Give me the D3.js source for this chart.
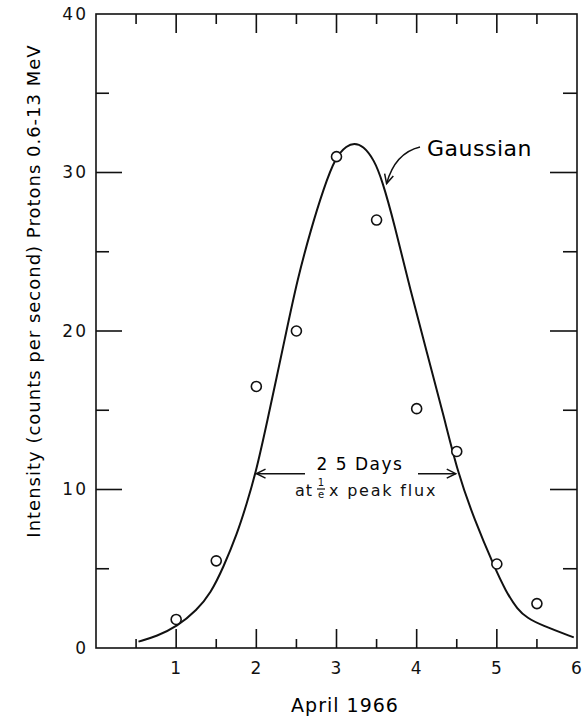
<!DOCTYPE html>
<html>
<head>
<meta charset="utf-8">
<script src="https://cdn.jsdelivr.net/npm/d3@7"></script>
<style>
  html, body { margin: 0; padding: 0; background: #fff; }
  svg { display: block; font-family: 'DejaVu Sans', sans-serif; }
</style>
</head>
<body>
<svg id="chart" width="584" height="719"></svg>
<script>
(() => {
  // observed counts, April 1966
  const days = [1, 1.5, 2, 2.5, 3, 3.5, 4, 4.5, 5, 5.5]
  const counts = [1.8, 5.5, 16.5, 20, 31, 27, 15.1, 12.4, 5.3, 2.8]

  // hand-drawn gaussian
  const curveDays = [0.53, 0.76, 1.01, 1.26, 1.43, 1.59, 1.76, 1.88, 1.99, 2.12, 2.38, 2.51, 2.68, 2.84, 2.99, 3.13, 3.22, 3.33, 3.47, 3.57, 3.72, 3.92, 4.13, 4.34, 4.51, 4.72, 4.97, 5.11, 5.26, 5.38, 5.55, 5.96]
  const curveCounts = [0.4, 0.75, 1.35, 2.4, 3.45, 5.1, 7.2, 9.1, 11.0, 13.9, 20.1, 23.2, 26.4, 29.0, 31.0, 31.7, 31.85, 31.7, 30.8, 29.5, 26.8, 22.6, 18.6, 14.6, 11.1, 8.1, 5.1, 3.6, 2.4, 1.9, 1.45, 0.67]

  const xLabels = [1, 2, 3, 4, 5, 6]
  const xMajorTicks = [1, 2, 3, 4, 5]
  const xMinorTicks = [0.5, 1.5, 2.5, 3.5, 4.5, 5.5]
  const yLabels = [0, 10, 20, 30, 40]
  const yMajorTicks = [10, 20, 30]
  const yMinorTicks = [5, 15, 25, 35]

  const left = 96, right = 577, top = 14, bottom = 648
  const ink = '#111'
  const svg = d3.select('#chart')

  const x = d3.scaleLinear().domain([0, 6]).range([left, right])
  const y = d3.scaleLinear().domain([0, 40]).range([bottom, top])

  const labelAxis = g => {
    g.select('.domain').remove()
    g.selectAll('.tick line').remove()
    g.selectAll('.tick text').attr('fill', ink)
      .style('font-family', "'DejaVu Sans', sans-serif")
      .style('font-size', '17px')
      .style('letter-spacing', '2px')
  }

  svg.append('g')
    .attr('transform', `translate(0,${bottom})`)
    .call(d3.axisBottom(x).tickValues(xLabels).tickSize(0).tickPadding(14).tickFormat(d3.format('d')))
    .call(labelAxis)
  svg.append('g')
    .attr('transform', `translate(${left},0)`)
    .call(d3.axisLeft(y).tickValues(yLabels).tickSize(0).tickPadding(8))
    .call(labelAxis)

  // inward tick marks on all four sides
  const ticks = svg.append('g').attr('stroke', ink).attr('stroke-width', 1.6)
  const vTicks = (values, y0, len) => ticks.append('g').selectAll('line')
    .data(values).join('line')
      .attr('x1', d => x(d)).attr('x2', d => x(d))
      .attr('y1', y0).attr('y2', y0 + len)
  const hTicks = (values, x0, len) => ticks.append('g').selectAll('line')
    .data(values).join('line')
      .attr('y1', d => y(d)).attr('y2', d => y(d))
      .attr('x1', x0).attr('x2', x0 + len)

  vTicks(xMajorTicks, bottom, -19)
  vTicks(xMinorTicks, bottom, -9)
  vTicks(xMajorTicks, top, 19)
  vTicks(xMinorTicks, top, 10)
  hTicks(yMajorTicks, left, 26)
  hTicks(yMinorTicks, left, 13)
  hTicks(yMajorTicks, right, -27)
  hTicks(yMinorTicks, right, -14)

  // frame
  svg.append('rect')
    .attr('x', left).attr('y', top)
    .attr('width', right - left).attr('height', bottom - top)
    .attr('fill', 'none').attr('stroke', ink).attr('stroke-width', 1.6)

  // gaussian curve
  const curveData = curveDays.map((d, i) => [d, curveCounts[i]])
  svg.append('path')
    .datum(curveData)
    .attr('fill', 'none').attr('stroke', ink).attr('stroke-width', 2)
    .attr('d', d3.line().x(d => x(d[0])).y(d => y(d[1])).curve(d3.curveBasis))

  // data points
  svg.append('g').selectAll('circle')
    .data(days.map((d, i) => [d, counts[i]]))
    .join('circle')
      .attr('cx', d => x(d[0]))
      .attr('cy', d => y(d[1]))
      .attr('r', 5)
      .attr('fill', '#fff').attr('stroke', ink).attr('stroke-width', 1.6)

  // arrow heads
  svg.append('defs').append('marker')
    .attr('id', 'head')
    .attr('viewBox', '-10 -6 12 12')
    .attr('refX', 0).attr('refY', 0)
    .attr('markerWidth', 12).attr('markerHeight', 12)
    .attr('markerUnits', 'userSpaceOnUse')
    .attr('orient', 'auto')
    .append('path')
      .attr('d', 'M-9,-4.5L0,0L-9,4.5')
      .attr('fill', 'none').attr('stroke', ink).attr('stroke-width', 1.5)

  // width annotation
  const widthLevel = 11.0
  svg.append('line')
    .attr('x1', 305).attr('y1', y(widthLevel))
    .attr('x2', x(1.99) + 1).attr('y2', y(widthLevel))
    .attr('stroke', ink).attr('stroke-width', 1.5).attr('marker-end', 'url(#head)')
  svg.append('line')
    .attr('x1', 418).attr('y1', y(widthLevel))
    .attr('x2', x(4.5) - 1).attr('y2', y(widthLevel))
    .attr('stroke', ink).attr('stroke-width', 1.5).attr('marker-end', 'url(#head)')

  svg.append('text')
    .attr('x', 360).attr('y', 470)
    .attr('text-anchor', 'middle')
    .style('font-size', '17px').style('letter-spacing', '1.5px')
    .text('2 5 Days')

  const line2 = svg.append('g').style('font-size', '16px').attr('fill', ink)
  line2.append('text').attr('x', 295).attr('y', 496).style('letter-spacing', '1px').text('at')
  line2.append('text').attr('x', 321).attr('y', 486).attr('text-anchor', 'middle').style('font-size', '10px').text('1')
  line2.append('line').attr('x1', 317).attr('x2', 325).attr('y1', 489).attr('y2', 489).attr('stroke', ink).attr('stroke-width', 1.2)
  line2.append('text').attr('x', 321).attr('y', 498).attr('text-anchor', 'middle').style('font-size', '10px').text('e')
  line2.append('text').attr('x', 329).attr('y', 496).style('letter-spacing', '1.8px').text('x peak flux')

  // gaussian label
  svg.append('text')
    .attr('x', 427).attr('y', 156)
    .style('font-size', '22px').style('letter-spacing', '0.5px')
    .text('Gaussian')
  svg.append('path')
    .attr('d', `M420,147 Q395,153 ${x(3.6) + 2},${y(29.3)}`)
    .attr('fill', 'none').attr('stroke', ink).attr('stroke-width', 1.5)
    .attr('marker-end', 'url(#head)')

  // axis titles
  svg.append('text')
    .attr('x', 345).attr('y', 712)
    .attr('text-anchor', 'middle')
    .style('font-size', '19px').style('letter-spacing', '1px')
    .text('April 1966')

  svg.append('text')
    .attr('transform', 'translate(40,291) rotate(-90)')
    .attr('text-anchor', 'middle')
    .style('font-size', '18px').style('letter-spacing', '1px')
    .text('Intensity (counts per second) Protons 0.6-13 MeV')
})()
</script>
</body>
</html>
